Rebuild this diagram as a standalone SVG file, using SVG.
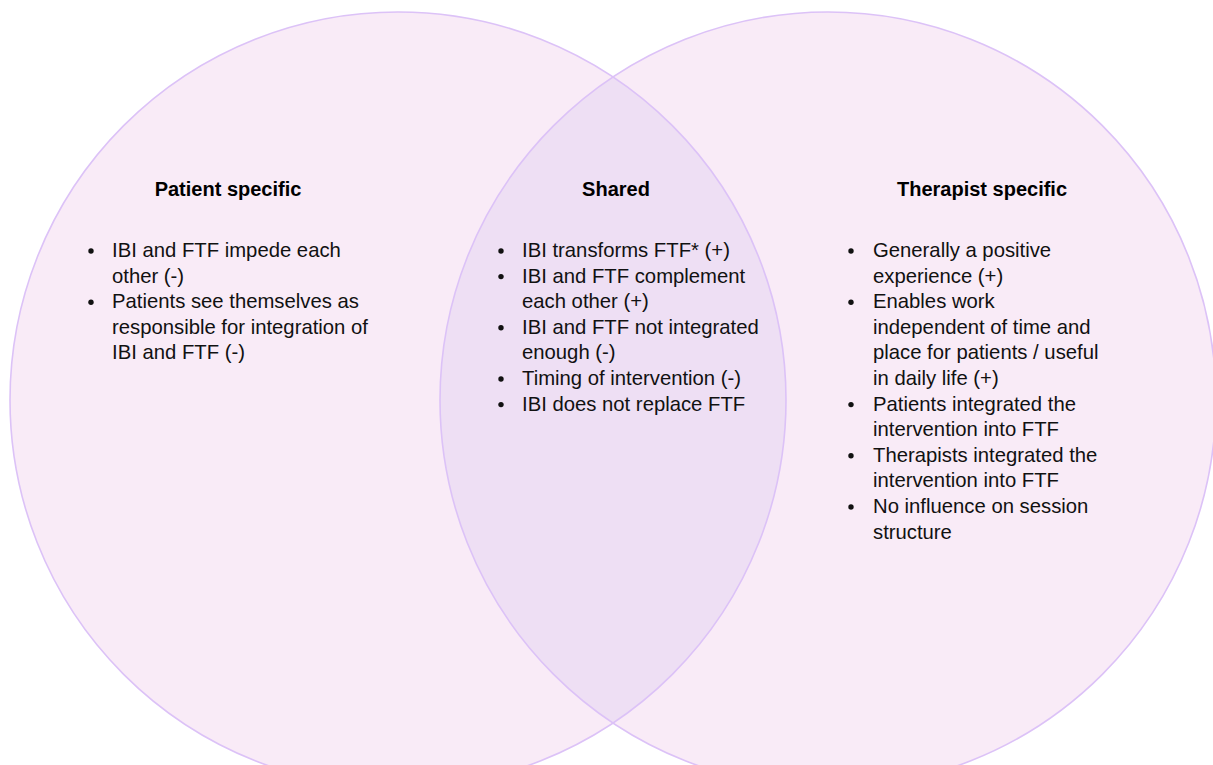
<svg xmlns="http://www.w3.org/2000/svg" width="1213" height="765" viewBox="0 0 1213 765">
<style>
.fill{fill:#f9ebf7;stroke:none}
.lens{fill:#eedff4;stroke:none}
.ring{fill:none;stroke:#dcc2f7;stroke-width:1.6}
.title{font-family:"Liberation Sans",Arial,sans-serif;font-size:20px;font-weight:bold;fill:#000;text-anchor:middle}
.body{font-family:"Liberation Sans",Arial,sans-serif;font-size:20.3px;fill:#111}
.bul{fill:#111}
</style>
<defs>
<circle id="b" r="2.7"/>
</defs>
<rect width="1213" height="765" fill="#ffffff"/>
<g id="circles">
<circle class="fill" cx="398" cy="400" r="388"/>
<circle class="fill" cx="828" cy="400" r="388"/>
<path class="lens" d="M613,77 A388,388 0 0,1 613,723 A388,388 0 0,1 613,77 Z"/>
<circle class="ring" cx="398" cy="400" r="388"/>
<circle class="ring" cx="828" cy="400" r="388"/>
</g>
<g id="patient">
<text class="title" x="228" y="196">Patient specific</text>
<use class="bul" href="#b" x="91" y="251"/>
<use class="bul" href="#b" x="91" y="302.2"/>
<text class="body" x="112" y="257">IBI and FTF impede each</text>
<text class="body" x="112" y="282.6">other (-)</text>
<text class="body" x="112" y="308.2">Patients see themselves as</text>
<text class="body" x="112" y="333.8">responsible for integration of</text>
<text class="body" x="112" y="359.4">IBI and FTF (-)</text>
</g>
<g id="shared">
<text class="title" x="616" y="196">Shared</text>
<use class="bul" href="#b" x="501" y="251"/>
<use class="bul" href="#b" x="501" y="276.6"/>
<use class="bul" href="#b" x="501" y="327.8"/>
<use class="bul" href="#b" x="501" y="379"/>
<use class="bul" href="#b" x="501" y="404.6"/>
<text class="body" x="522" y="257">IBI transforms FTF* (+)</text>
<text class="body" x="522" y="282.6">IBI and FTF complement</text>
<text class="body" x="522" y="308.2">each other (+)</text>
<text class="body" x="522" y="333.8">IBI and FTF not integrated</text>
<text class="body" x="522" y="359.4">enough (-)</text>
<text class="body" x="522" y="385">Timing of intervention (-)</text>
<text class="body" x="522" y="410.6">IBI does not replace FTF</text>
</g>
<g id="therapist">
<text class="title" x="982" y="196">Therapist specific</text>
<use class="bul" href="#b" x="851" y="251"/>
<use class="bul" href="#b" x="851" y="302.2"/>
<use class="bul" href="#b" x="851" y="404.6"/>
<use class="bul" href="#b" x="851" y="455.8"/>
<use class="bul" href="#b" x="851" y="507"/>
<text class="body" x="873" y="257">Generally a positive</text>
<text class="body" x="873" y="282.6">experience (+)</text>
<text class="body" x="873" y="308.2">Enables work</text>
<text class="body" x="873" y="333.8">independent of time and</text>
<text class="body" x="873" y="359.4">place for patients / useful</text>
<text class="body" x="873" y="385">in daily life (+)</text>
<text class="body" x="873" y="410.6">Patients integrated the</text>
<text class="body" x="873" y="436.2">intervention into FTF</text>
<text class="body" x="873" y="461.8">Therapists integrated the</text>
<text class="body" x="873" y="487.4">intervention into FTF</text>
<text class="body" x="873" y="513">No influence on session</text>
<text class="body" x="873" y="538.6">structure</text>
</g>
</svg>
